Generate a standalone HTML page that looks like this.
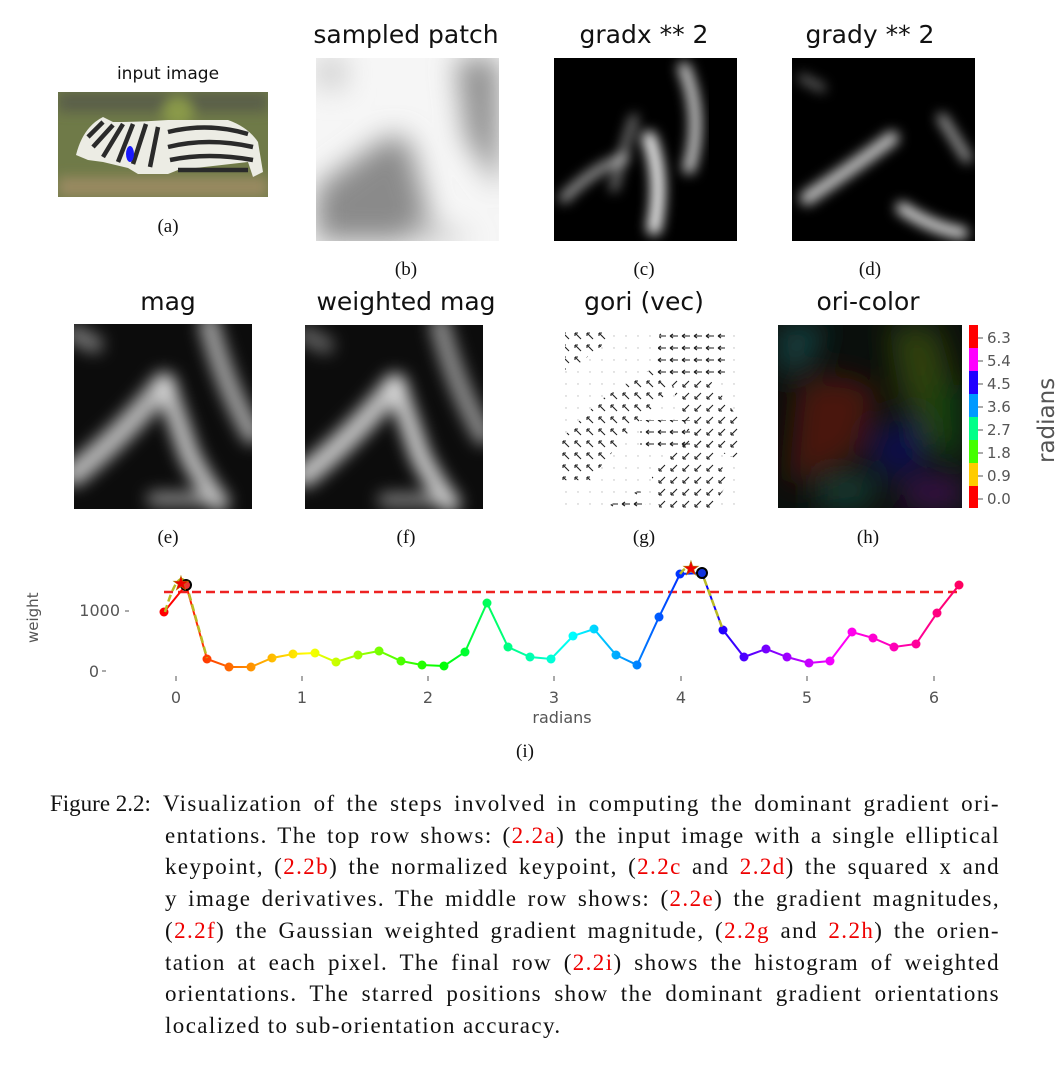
<!DOCTYPE html>
<html><head><meta charset="utf-8"><style>
body{margin:0;width:1064px;height:1068px;background:#fff;position:relative;overflow:hidden;font-family:"Liberation Serif",serif}
.t{position:absolute;font-family:"DejaVu Sans","Liberation Sans",sans-serif;color:#111;text-align:center;transform:translateX(-50%);white-space:nowrap}
.l{position:absolute;font-size:19px;transform:translateX(-50%);color:#111}
.im{position:absolute}
.ln{position:absolute;left:163px;width:837px;font-size:23px;letter-spacing:1.4px;line-height:31.7px;height:31.7px;text-align:justify;text-align-last:justify;color:#111;white-space:nowrap}
.last{text-align-last:left}
.r{color:#e00}
</style></head><body>
<svg width="0" height="0" style="position:absolute"><defs>
<filter id="b6"><feGaussianBlur stdDeviation="6"/></filter>
<filter id="b8"><feGaussianBlur stdDeviation="8"/></filter>
<filter id="b14"><feGaussianBlur stdDeviation="14"/></filter>
<pattern id="pL" width="12" height="12" patternUnits="userSpaceOnUse"><path d="M2 6 L10 6 M2 6 L5 4 M2 6 L5 8" stroke="#222" stroke-width="1.1" fill="none"/></pattern>
<pattern id="pUL" width="12" height="12" patternUnits="userSpaceOnUse"><path d="M3 3 L9 9 M3 3 L3 6 M3 3 L6 3" stroke="#222" stroke-width="1.1" fill="none"/></pattern>
<pattern id="pDL" width="12" height="12" patternUnits="userSpaceOnUse"><path d="M3 9 L9 3 M3 9 L3 6 M3 9 L6 9" stroke="#222" stroke-width="1.1" fill="none"/></pattern>
<pattern id="pD" width="12" height="12" patternUnits="userSpaceOnUse"><circle cx="6" cy="6" r=".7" fill="#bbb"/></pattern>
</defs></svg>

<div class="t" style="left:168px;top:64px;font-size:17px">input image</div>
<svg class="im" style="left:58px;top:92px" width="210" height="105">
<rect width="210" height="105" fill="#6f7a48"/>
<g filter="url(#b6)"><rect y="0" width="210" height="20" fill="#5a5f4a"/><rect y="85" width="210" height="20" fill="#9a8a62"/><circle cx="120" cy="20" r="15" fill="#8a9a48"/></g>
<path d="M18 63 Q25 35 45 25 L55 30 Q80 30 110 28 L170 28 Q190 35 200 50 L205 80 L195 85 L190 70 L120 78 L110 82 L80 82 L70 76 L45 70 L30 68 Z" fill="#ecece4"/>
<g stroke="#2a2a2a" stroke-width="4.5" fill="none"><path d="M30 45 L45 30"/><path d="M35 55 L55 33"/><path d="M45 65 L65 32"/><path d="M60 70 L75 32"/><path d="M75 72 L88 32"/><path d="M92 75 L100 35"/><path d="M110 40 Q150 30 190 42"/><path d="M110 55 Q150 45 195 55"/><path d="M112 68 Q150 60 195 68"/><path d="M120 78 L190 78"/></g>
<ellipse cx="72" cy="62" rx="4" ry="8" fill="#1a1aff"/>
</svg>
<div class="l" style="left:168px;top:216px">(a)</div>

<div class="t" style="left:406px;top:20px;font-size:25px">sampled patch</div>
<svg class="im" style="left:316px;top:58px" width="183" height="183">
<rect width="183" height="183" fill="#f6f6f6"/>
<g filter="url(#b14)">
<path d="M0 130 Q40 100 70 80 Q95 70 100 110 L120 183 L0 183Z" fill="#8a8a8a"/>
<path d="M140 0 L183 0 L183 130 L150 80Z" fill="#8e8e8e"/>
<path d="M100 160 L160 183 L90 183Z" fill="#bbb"/>
<rect x="0" y="0" width="30" height="30" fill="#ccc"/>
</g></svg>
<div class="l" style="left:406px;top:259px">(b)</div>

<div class="t" style="left:644px;top:20px;font-size:25px">gradx ** 2</div>
<svg class="im" style="left:554px;top:58px" width="183" height="183">
<rect width="183" height="183" fill="#000"/>
<g filter="url(#b6)" stroke="#fff" fill="none" stroke-linecap="round">
<path d="M130 10 Q150 60 135 110" stroke-width="12" opacity=".8"/>
<path d="M95 80 Q110 120 100 170" stroke-width="14" opacity=".95"/>
<path d="M10 140 Q40 110 70 100" stroke-width="10" opacity=".6"/>
<path d="M80 60 Q70 90 60 130" stroke-width="8" opacity=".5"/>
</g></svg>
<div class="l" style="left:644px;top:259px">(c)</div>

<div class="t" style="left:870px;top:20px;font-size:25px">grady ** 2</div>
<svg class="im" style="left:792px;top:58px" width="183" height="183">
<rect width="183" height="183" fill="#000"/>
<g filter="url(#b6)" stroke="#fff" fill="none" stroke-linecap="round">
<path d="M15 140 Q60 110 100 80" stroke-width="14" opacity=".75"/>
<path d="M110 150 Q140 170 170 175" stroke-width="12" opacity=".85"/>
<path d="M150 60 L175 100" stroke-width="10" opacity=".6"/>
<path d="M10 20 L30 30" stroke-width="8" opacity=".4"/>
</g></svg>
<div class="l" style="left:870px;top:259px">(d)</div>

<div class="t" style="left:168px;top:287px;font-size:25px">mag</div>
<svg class="im" style="left:74px;top:324px" width="178" height="185">
<rect width="178" height="185" fill="#0c0c0c"/>
<g filter="url(#b8)" stroke="#ddd" fill="none" stroke-linecap="round">
<path d="M0 150 Q50 110 90 60" stroke-width="24" opacity=".8"/>
<path d="M92 62 Q105 100 115 130 Q130 160 145 178" stroke-width="20" opacity=".85"/>
<path d="M135 0 Q150 60 178 110" stroke-width="20" opacity=".7"/>
<path d="M0 10 L20 20" stroke-width="18" opacity=".5"/>
<path d="M80 175 L130 175" stroke-width="14" opacity=".6"/>
</g></svg>
<div class="l" style="left:168px;top:527px">(e)</div>

<div class="t" style="left:406px;top:287px;font-size:25px">weighted mag</div>
<svg class="im" style="left:305px;top:325px" width="178" height="184">
<rect width="178" height="184" fill="#0c0c0c"/>
<g filter="url(#b8)" stroke="#ddd" fill="none" stroke-linecap="round">
<path d="M0 150 Q50 110 90 60" stroke-width="24" opacity=".85"/>
<path d="M92 62 Q105 100 115 130 Q130 160 145 178" stroke-width="20" opacity=".9"/>
<path d="M135 0 Q150 60 178 110" stroke-width="20" opacity=".6"/>
<path d="M0 10 L20 20" stroke-width="18" opacity=".4"/>
<path d="M80 175 L130 175" stroke-width="14" opacity=".55"/>
</g></svg>
<div class="l" style="left:406px;top:527px">(f)</div>

<div class="t" style="left:644px;top:287px;font-size:25px">gori (vec)</div>
<svg class="im" style="left:560px;top:330px" width="180" height="180">
<rect width="180" height="180" fill="url(#pD)"/>
<path d="M100 0 L165 0 L165 45 L95 45Z" fill="url(#pL)"/>
<path d="M5 0 L50 0 L50 10 L10 40 L5 40Z" fill="url(#pUL)"/>
<path d="M0 150 L0 110 L40 70 L90 40 L110 60 L70 100 L30 150Z" fill="url(#pUL)"/>
<path d="M110 50 L150 50 L180 90 L180 130 L130 110Z" fill="url(#pDL)"/>
<path d="M80 90 L130 90 L130 120 L80 120Z" fill="url(#pL)"/>
<path d="M90 140 L140 100 L170 150 L150 180 L100 180Z" fill="url(#pDL)"/>
<path d="M30 185 L80 160 L90 185Z" fill="url(#pL)"/>
</svg>
<div class="l" style="left:644px;top:527px">(g)</div>

<div class="t" style="left:868px;top:287px;font-size:25px">ori-color</div>
<svg class="im" style="left:778px;top:325px" width="184" height="183">
<rect width="184" height="183" fill="#0a0f0c"/>
<g filter="url(#b14)">
<path d="M0 0 L50 0 L30 40 L0 50Z" fill="#124040"/>
<path d="M20 60 Q70 40 100 70 L80 130 L10 160 Z" fill="#4a1210"/>
<path d="M110 0 L160 0 L184 90 L150 130 L120 60Z" fill="#2f3f0c"/>
<path d="M150 60 L184 60 L184 140 L165 130Z" fill="#10400c"/>
<path d="M90 110 L140 90 L150 150 L100 150Z" fill="#10104a"/>
<path d="M120 160 L184 150 L184 183 L130 183Z" fill="#3a104a"/>
<path d="M40 150 L100 150 L90 183 L40 183Z" fill="#123a30"/>
</g></svg>
<svg class="im" style="left:966px;top:323px" width="98" height="190" font-family="DejaVu Sans, sans-serif" font-size="15" fill="#555">
<rect x="3" y="2" width="9" height="23" fill="#f00"/><rect x="3" y="25" width="9" height="23" fill="#f0f"/>
<rect x="3" y="48" width="9" height="23" fill="#20f"/><rect x="3" y="71" width="9" height="23" fill="#09f"/>
<rect x="3" y="94" width="9" height="23" fill="#0f8"/><rect x="3" y="117" width="9" height="23" fill="#4f0"/>
<rect x="3" y="140" width="9" height="23" fill="#fc0"/><rect x="3" y="163" width="9" height="22" fill="#f00"/>
<g stroke="#555"><line x1="12" y1="15" x2="17" y2="15"/><line x1="12" y1="38" x2="17" y2="38"/><line x1="12" y1="61" x2="17" y2="61"/><line x1="12" y1="84" x2="17" y2="84"/><line x1="12" y1="107" x2="17" y2="107"/><line x1="12" y1="130" x2="17" y2="130"/><line x1="12" y1="153" x2="17" y2="153"/><line x1="12" y1="176" x2="17" y2="176"/></g>
<text x="21" y="20">6.3</text><text x="21" y="43">5.4</text><text x="21" y="66">4.5</text><text x="21" y="89">3.6</text><text x="21" y="112">2.7</text><text x="21" y="135">1.8</text><text x="21" y="158">0.9</text><text x="21" y="181">0.0</text>
<text transform="translate(88,140) rotate(-90)" font-size="23">radians</text>
</svg>
<div class="l" style="left:868px;top:527px">(h)</div>

<svg class="im" style="left:0;top:550px" width="1064" height="180" font-family="DejaVu Sans, sans-serif" fill="#555">
<defs><linearGradient id="hue" gradientUnits="userSpaceOnUse" x1="175" y1="0" x2="970" y2="0">
<stop offset="0" stop-color="#f00"/><stop offset=".1667" stop-color="#ff0"/><stop offset=".3333" stop-color="#0f0"/><stop offset=".5" stop-color="#0ff"/><stop offset=".6667" stop-color="#00f"/><stop offset=".8333" stop-color="#f0f"/><stop offset="1" stop-color="#f05"/></linearGradient></defs>
<text transform="translate(38,93) rotate(-90)" font-size="15">weight</text>
<text x="120" y="66" font-size="16" text-anchor="end">1000</text><text x="99" y="127" font-size="16" text-anchor="end">0</text>
<line x1="125" y1="61" x2="129" y2="61" stroke="#555"/><line x1="102" y1="121" x2="106" y2="121" stroke="#555"/>
<g font-size="16" text-anchor="middle"><text x="176" y="153">0</text><text x="302" y="153">1</text><text x="428" y="153">2</text><text x="554" y="153">3</text><text x="681" y="153">4</text><text x="807" y="153">5</text><text x="934" y="153">6</text>
<text x="562" y="173">radians</text></g>
<g stroke="#555"><line x1="176" y1="126" x2="176" y2="131"/><line x1="302" y1="126" x2="302" y2="131"/><line x1="428" y1="126" x2="428" y2="131"/><line x1="554" y1="126" x2="554" y2="131"/><line x1="681" y1="126" x2="681" y2="131"/><line x1="807" y1="126" x2="807" y2="131"/><line x1="934" y1="126" x2="934" y2="131"/></g>
<line x1="164" y1="42" x2="960" y2="42" stroke="#e22" stroke-width="2.5" stroke-dasharray="9,5"/>
<polyline fill="none" stroke="url(#hue)" stroke-width="2" points="164,62 186,35 207,109 229,117 251,117 272,108 293,104 315,103 336,112 358,105 379,101 401,111 422,115 444,116 465,102 487,53 508,97 530,107 551,109 573,86 594,79 616,105 637,115 659,67 680,24 702,23 723,80 744,107 766,99 787,107 809,113 830,111 852,82 873,88 894,97 916,94 937,63 959,35"/>
<g fill="url(#hue)">
<circle cx="164" cy="62" r="4.5"/><circle cx="207" cy="109" r="4.5"/><circle cx="229" cy="117" r="4.5"/><circle cx="251" cy="117" r="4.5"/><circle cx="272" cy="108" r="4.5"/><circle cx="293" cy="104" r="4.5"/><circle cx="315" cy="103" r="4.5"/><circle cx="336" cy="112" r="4.5"/><circle cx="358" cy="105" r="4.5"/><circle cx="379" cy="101" r="4.5"/><circle cx="401" cy="111" r="4.5"/><circle cx="422" cy="115" r="4.5"/><circle cx="444" cy="116" r="4.5"/><circle cx="465" cy="102" r="4.5"/><circle cx="487" cy="53" r="4.5"/><circle cx="508" cy="97" r="4.5"/><circle cx="530" cy="107" r="4.5"/><circle cx="551" cy="109" r="4.5"/><circle cx="573" cy="86" r="4.5"/><circle cx="594" cy="79" r="4.5"/><circle cx="616" cy="105" r="4.5"/><circle cx="637" cy="115" r="4.5"/><circle cx="659" cy="67" r="4.5"/><circle cx="680" cy="24" r="4.5"/><circle cx="723" cy="80" r="4.5"/><circle cx="744" cy="107" r="4.5"/><circle cx="766" cy="99" r="4.5"/><circle cx="787" cy="107" r="4.5"/><circle cx="809" cy="113" r="4.5"/><circle cx="830" cy="111" r="4.5"/><circle cx="852" cy="82" r="4.5"/><circle cx="873" cy="88" r="4.5"/><circle cx="894" cy="97" r="4.5"/><circle cx="916" cy="94" r="4.5"/><circle cx="937" cy="63" r="4.5"/><circle cx="959" cy="35" r="4.5"/>
</g>
<path d="M165 62 Q178 18 186 33 L207 108" fill="none" stroke="#bb2" stroke-width="2.5" stroke-dasharray="7,4"/>
<path d="M680 24 Q690 10 702 23 L723 80" fill="none" stroke="#bb2" stroke-width="2.5" stroke-dasharray="7,4"/>
<circle cx="186" cy="35" r="5" fill="#e33" stroke="#000" stroke-width="2"/>
<circle cx="702" cy="23" r="5" fill="#13d" stroke="#000" stroke-width="2"/>
<text x="181" y="40" font-size="20" fill="#e00" stroke="#a80" stroke-width=".5" text-anchor="middle">★</text>
<text x="691" y="25" font-size="20" fill="#e00" stroke="#a80" stroke-width=".5" text-anchor="middle">★</text>
</svg>
<div class="l" style="left:525px;top:741px">(i)</div>

<div style="position:absolute;left:50px;top:788px;font-size:23px;line-height:31.7px;color:#111">Figure 2.2:</div>
<div class="ln" style="top:788px">Visualization of the steps involved in computing the dominant gradient ori-</div>
<div class="ln" style="top:819.7px;left:165px;width:835px">entations. The top row shows: (<span class="r">2.2a</span>) the input image with a single elliptical</div>
<div class="ln" style="top:851.4px;left:165px;width:835px">keypoint, (<span class="r">2.2b</span>) the normalized keypoint, (<span class="r">2.2c</span> and <span class="r">2.2d</span>) the squared x and</div>
<div class="ln" style="top:883.1px;left:165px;width:835px">y image derivatives. The middle row shows: (<span class="r">2.2e</span>) the gradient magnitudes,</div>
<div class="ln" style="top:914.8px;left:165px;width:835px">(<span class="r">2.2f</span>) the Gaussian weighted gradient magnitude, (<span class="r">2.2g</span> and <span class="r">2.2h</span>) the orien-</div>
<div class="ln" style="top:946.5px;left:165px;width:835px">tation at each pixel. The final row (<span class="r">2.2i</span>) shows the histogram of weighted</div>
<div class="ln" style="top:978.2px;left:165px;width:835px">orientations. The starred positions show the dominant gradient orientations</div>
<div class="ln last" style="top:1009.9px;left:165px;width:835px">localized to sub-orientation accuracy.</div>
</body></html>
